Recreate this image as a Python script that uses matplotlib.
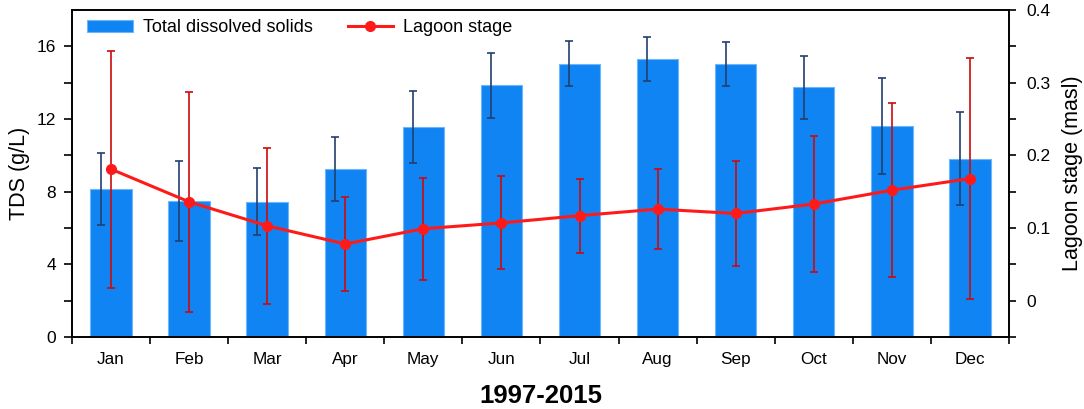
import numpy as np
import matplotlib.pyplot as plt

plt.rcParams['font.family'] = ['Liberation Sans', 'DejaVu Sans']

months = ['Jan', 'Feb', 'Mar', 'Apr', 'May', 'Jun', 'Jul', 'Aug', 'Sep', 'Oct', 'Nov', 'Dec']
tds = [8.15, 7.49, 7.44, 9.24, 11.55, 13.85, 15.03, 15.32, 15.03, 13.74, 11.62, 9.82]
tds_err = [2.0, 2.2, 1.85, 1.77, 1.97, 1.77, 1.24, 1.22, 1.22, 1.72, 2.65, 2.57]
stage = [0.181, 0.136, 0.103, 0.078, 0.099, 0.107, 0.117, 0.126, 0.120, 0.133, 0.152, 0.168]
stage_err = [0.163, 0.151, 0.107, 0.065, 0.070, 0.064, 0.051, 0.055, 0.072, 0.094, 0.120, 0.166]

x = np.arange(len(months))

fig = plt.figure(figsize=(10.84, 4.09), dpi=100)
ax = fig.add_axes([0.0664, 0.176, 0.8644, 0.7996])

bars = ax.bar(x, tds, width=0.53, color='#1184f4', edgecolor='#6cb6fa', linewidth=0.8,
              label='Total dissolved solids', zorder=2)
# TDS error bars sit a bit left of bar centre
ax.errorbar(x - 0.13, tds, yerr=tds_err, fmt='none', ecolor='#22406e', elinewidth=1.2,
            capsize=3, capthick=1.2, zorder=3)

ax.set_xlim(-0.5, 11.5)
ax.set_ylim(0, 18)
ax.set_yticks([0, 4, 8, 12, 16])
ax.set_yticks([2, 6, 10, 14], minor=True)
ax.set_xticks(np.arange(-0.5, 12, 1))
ax.set_xticklabels([])
ax.set_xticks(x, minor=True)
ax.set_xticklabels(months, minor=True)
ax.tick_params(axis='x', which='major', direction='out', length=5, width=1.2)
ax.tick_params(axis='x', which='minor', length=0, pad=11, labelsize=12.3)
ax.tick_params(axis='y', which='both', direction='out', length=6, width=1.2, labelsize=12.5, pad=5.5)
ax.set_ylabel('TDS (g/L)', fontsize=15.5, labelpad=5)
ax.set_xlabel('1997-2015', fontsize=18.5, fontweight='bold', labelpad=12)
for s in ax.spines.values():
    s.set_linewidth(1.2)

ax2 = ax.twinx()
line = ax2.errorbar(x, stage, yerr=stage_err, color='#ff1a1a', ecolor='#cc0a0a', elinewidth=1.2,
                    capsize=3, capthick=1.2, marker='o', markersize=7, linewidth=2.2,
                    label='Lagoon stage', zorder=4)
ax2.set_ylim(-0.05, 0.4)
ax2.set_yticks([0, 0.1, 0.2, 0.3, 0.4])
ax2.set_yticklabels(['0', '0.1', '0.2', '0.3', '0.4'])
ax2.set_yticks([-0.05, 0.05, 0.15, 0.25, 0.35], minor=True)
ax2.tick_params(axis='y', which='both', direction='out', length=5, width=1.2, labelsize=12.5, pad=7.5)
ax2.set_ylabel('Lagoon stage (masl)', fontsize=15.5, labelpad=8)
for s in ax2.spines.values():
    s.set_linewidth(1.2)

ax2.legend([bars, line[0]], ['Total dissolved solids', 'Lagoon stage'], loc='upper left',
           ncol=2, frameon=False, fontsize=13, bbox_to_anchor=(0.005, 1.005),
           handlelength=2.5, handletextpad=0.55, columnspacing=1.95, borderaxespad=0.2)

plt.savefig('out.png', dpi=100)
